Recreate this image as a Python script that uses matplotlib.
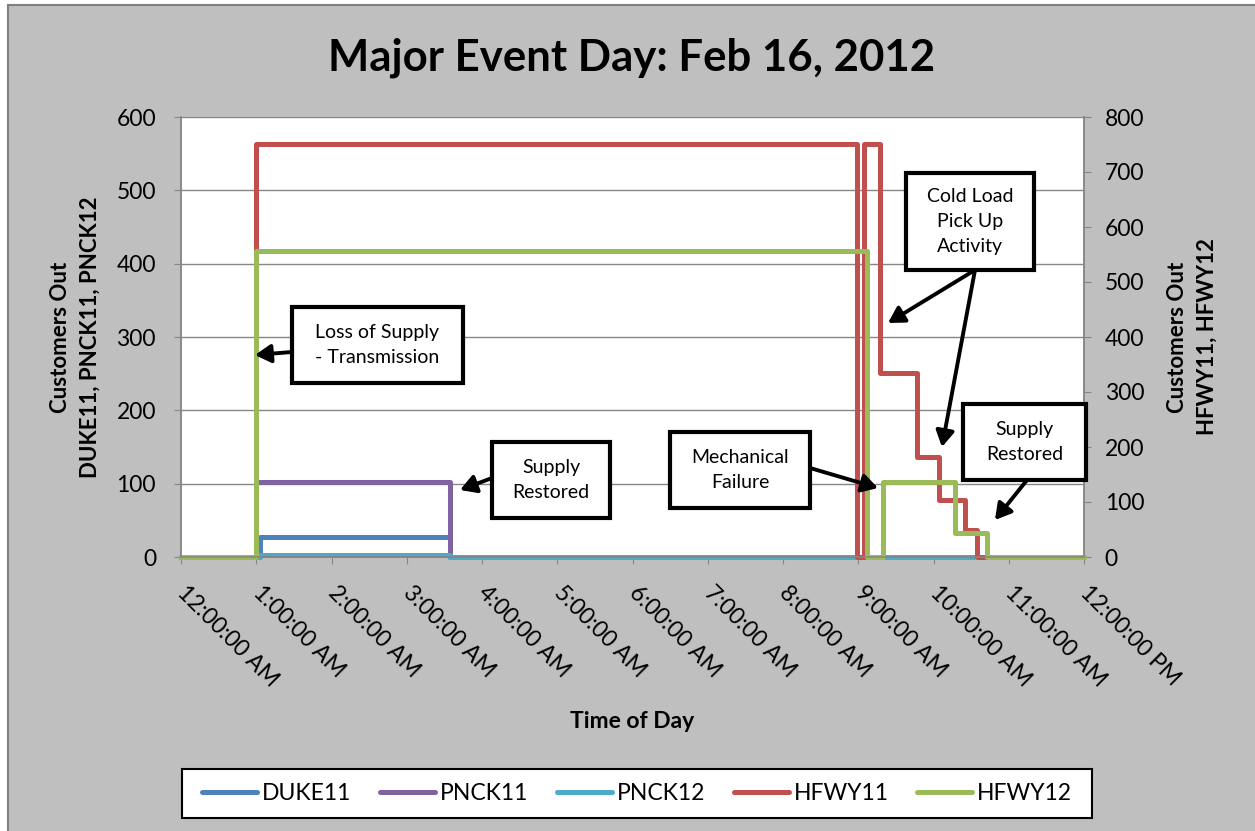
import matplotlib
matplotlib.use("Agg")
import matplotlib.pyplot as plt
from matplotlib.patches import Rectangle

plt.rcParams['font.family'] = ['Lato', 'DejaVu Sans']

# time of day in hours after midnight, values are customers out
duke11_hours = [0, 1.05, 3.57, 10.53]
duke11 = [0, 27, 0, 0]
pnck11_hours = [0, 1.0, 3.58, 10.53]
pnck11 = [0, 102, 0, 0]
pnck12_hours = [0, 1.05, 3.58, 10.53]
pnck12 = [0, 3, 0, 0]
hfwy11_hours = [0, 1.0, 8.98, 9.07, 9.29, 9.78, 10.07, 10.42, 10.58, 12]
hfwy11 = [0, 750, 0, 750, 335, 182, 104, 49, 0, 0]
hfwy12_hours = [0, 1.0, 9.11, 9.33, 10.29, 10.71, 12]
hfwy12 = [0, 557, 0, 136, 44, 0, 0]

time_labels = ['12:00:00 AM'] + ['%d:00:00 AM' % h for h in range(1, 12)] + ['12:00:00 PM']

W, H = 1255, 831
def fx(px):
    return px / W
def fy(py):
    return 1 - py / H

fig = plt.figure(figsize=(W / 100, H / 100), dpi=100)
fig.patch.set_facecolor('white')
# grey chart area
fig.patches.append(Rectangle((fx(8), -0.01), 1.02 - fx(8), fy(5) + 0.01, transform=fig.transFigure,
                             facecolor='#bfbfbf', edgecolor='#7f7f7f', lw=1.5, zorder=-2))

ax = fig.add_axes([fx(181), fy(557), (1084 - 181) / W, (557 - 117) / H])
ax2 = ax.twinx()

lw = 3.6
l1, = ax.plot(duke11_hours, duke11, drawstyle='steps-post', color='#4f81bd', lw=lw, clip_on=False, label='DUKE11')
l2, = ax.plot(pnck11_hours, pnck11, drawstyle='steps-post', color='#8064a2', lw=lw, clip_on=False, label='PNCK11')
l3, = ax.plot(pnck12_hours, pnck12, drawstyle='steps-post', color='#4bacc6', lw=lw, clip_on=False, label='PNCK12')
l4, = ax2.plot(hfwy11_hours, hfwy11, drawstyle='steps-post', color='#c0504d', lw=lw, clip_on=False, label='HFWY11')
l5, = ax2.plot(hfwy12_hours, hfwy12, drawstyle='steps-post', color='#9bbb59', lw=lw, clip_on=False, label='HFWY12')
for l in (l1, l2, l3, l4, l5):
    l.set_solid_joinstyle('round')
    l.set_solid_capstyle('round')

ax.set_xlim(0, 12)
ax.set_ylim(0, 600)
ax2.set_ylim(0, 800)
ax.set_xticks(range(13))
ax.set_xticklabels(time_labels)
ax.set_yticks(range(0, 601, 100))
ax2.set_yticks(range(0, 801, 100))
ax.grid(axis='y', color='#868686', lw=1)
ax.set_axisbelow(True)

grey = '#868686'
for a in (ax, ax2):
    a.spines['top'].set_visible(False)
    for s in ('left', 'right', 'bottom'):
        a.spines[s].set_color(grey)
        a.spines[s].set_linewidth(1.1)
ax.tick_params(axis='x', direction='out', length=5, color=grey, labelsize=16.5, pad=18)
ax.tick_params(axis='y', direction='out', length=5, color=grey, labelsize=16.5, pad=13)
ax2.tick_params(axis='y', direction='out', length=5, color=grey, labelsize=16.5, pad=10)
plt.setp(ax.get_xticklabels(), rotation=-45, ha='left', va='center', rotation_mode='anchor')

fig.text(fx(632), fy(58), 'Major Event Day: Feb 16, 2012', fontsize=31.5, fontweight='bold',
         ha='center', va='center')
fig.text(fx(75), fy(337), 'Customers Out\nDUKE11, PNCK11, PNCK12', rotation=90, fontsize=16,
         fontweight='bold', ha='center', va='center', linespacing=1.5)
fig.text(fx(1192), fy(337), 'Customers Out\nHFWY11, HFWY12', rotation=90, fontsize=16,
         fontweight='bold', ha='center', va='center', linespacing=1.5)
fig.text(fx(632), fy(722), 'Time of Day', fontsize=16.5, fontweight='bold', ha='center', va='center')

# legend
fig.patches.append(Rectangle((fx(182), fy(818)), fx(1092) - fx(182), (818 - 769) / H,
                             transform=fig.transFigure, facecolor='white', edgecolor='black', lw=1.5, zorder=1))
fig.legend([l1, l2, l3, l4, l5], ['DUKE11', 'PNCK11', 'PNCK12', 'HFWY11', 'HFWY12'],
           loc='center', bbox_to_anchor=(fx(202), fy(818), fx(1072) - fx(202), (818 - 769) / H),
           mode='expand', ncol=5, frameon=False, handlelength=2.4, handletextpad=0.2,
           fontsize=16.5, borderaxespad=0, borderpad=0)

# callout boxes (axes fraction)
boxes = [
    (0.1229, 0.3955, 0.3123, 0.5682, 'Loss of Supply\n- Transmission'),
    (0.3444, 0.0886, 0.4751, 0.2614, 'Supply\nRestored'),
    (0.5415, 0.1114, 0.6966, 0.2841, 'Mechanical\nFailure'),
    (0.8029, 0.6523, 0.9446, 0.8727, 'Cold Load\nPick Up\nActivity'),
    (0.8660, 0.1750, 1.0022, 0.3477, 'Supply\nRestored'),
]
arrows = [
    ((0.1229, 0.4659), (0.0819, 0.4591)),
    ((0.3444, 0.1795), (0.3090, 0.1523)),
    ((0.6966, 0.2023), (0.7719, 0.1568)),
    ((0.8793, 0.6523), (0.7829, 0.5318)),
    ((0.8793, 0.6523), (0.8427, 0.2500)),
    ((0.9369, 0.1750), (0.9014, 0.0841)),
]
for x0, y0, x1, y1, txt in boxes:
    ax2.add_patch(Rectangle((x0, y0), x1 - x0, y1 - y0, transform=ax2.transAxes, facecolor='white',
                            edgecolor='black', lw=3, clip_on=False, zorder=5))
    ax2.text((x0 + x1) / 2, (y0 + y1) / 2, txt, transform=ax2.transAxes, ha='center', va='center',
             fontsize=14, linespacing=1.55, zorder=6)
for tail, head in arrows:
    ax2.annotate('', xy=head, xytext=tail, xycoords='axes fraction', textcoords='axes fraction',
                 arrowprops=dict(arrowstyle='-|>,head_length=0.95,head_width=0.55', mutation_scale=10,
                                 lw=2.8, color='black', shrinkA=0, shrinkB=0), zorder=6)

fig.savefig('out.png', dpi=100)
